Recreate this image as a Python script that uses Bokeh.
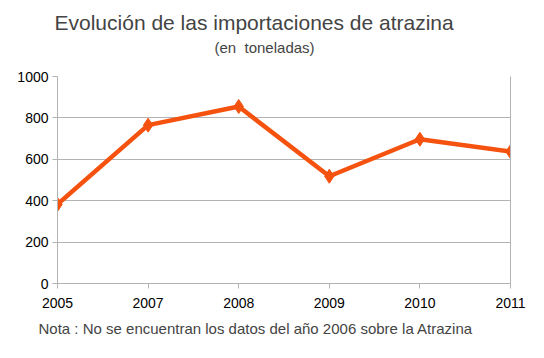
from bokeh.plotting import figure
from bokeh.models import Title, LinearAxis, Range1d, FixedTicker
from bokeh.embed import file_html
from bokeh.resources import INLINE

years = ["2005", "2007", "2008", "2009", "2010", "2011"]
imports = [382, 765, 855, 518, 697, 637]
y_ticks = [0, 200, 400, 600, 800, 1000]

TITLE = "Evolución de las importaciones de atrazina"
SUBTITLE = "(en\u00a0 toneladas)"
NOTE = "Nota : No se encuentran los datos del año 2006 sobre la Atrazina"

xs = list(range(len(years)))
FONT = "Liberation Sans"

p = figure(width=528, height=346, output_backend="svg", toolbar_location=None,
           x_range=Range1d(0, len(years) - 1), y_range=Range1d(0, 1000),
           min_border_left=57, min_border_right=18, min_border_top=76, min_border_bottom=63)
p.outline_line_color = None
p.background_fill_color = "white"
p.border_fill_color = "white"

# subtitle (a blank second line keeps it clear of the plot)
p.add_layout(Title(text=SUBTITLE + "\n\u00a0", text_font=FONT,
                   text_font_size="15px", text_font_style="normal", align="left",
                   offset=157, standoff=7), "above")
# main title (outermost)
p.title.text = TITLE
p.title.text_font = FONT
p.title.text_font_size = "21px"
p.title.text_font_style = "normal"
p.title.align = "left"
p.title.offset = -3
p.title.standoff = 0

# axes
p.xaxis.ticker = FixedTicker(ticks=xs)
p.xaxis.major_label_overrides = {i: y for i, y in enumerate(years)}
p.yaxis.ticker = FixedTicker(ticks=y_ticks)
for ax in (p.xaxis, p.yaxis):
    ax.axis_line_color = "#b3b3b3"
    ax.major_tick_line_color = "#b3b3b3"
    ax.major_tick_in = 0
    ax.major_tick_out = 5
    ax.minor_tick_line_color = None
    ax.major_label_text_font = FONT
    ax.major_label_text_font_size = "14px"
    ax.major_label_text_color = "black"
p.xaxis.major_label_standoff = 9
p.yaxis.major_label_standoff = 4

right = LinearAxis(ticker=FixedTicker(ticks=[]), axis_line_color="#b3b3b3",
                   major_label_text_font_size="0px", major_tick_line_color=None,
                   minor_tick_line_color=None)
p.add_layout(right, "right")

p.xgrid.grid_line_color = None
p.ygrid.grid_line_color = "#b3b3b3"
p.ygrid.ticker = FixedTicker(ticks=y_ticks)

p.add_layout(Title(text=NOTE, text_font=FONT, text_font_size="15px", text_font_style="normal",
                   align="left", offset=-19, standoff=14), "below")

COLOR = "#f5520f"
p.line(xs, imports, line_color=COLOR, line_width=4.5)
p.scatter(xs, imports, marker="diamond", size=14, fill_color=COLOR, line_color=COLOR)

open("out.html", "w").write(file_html(p, INLINE))
